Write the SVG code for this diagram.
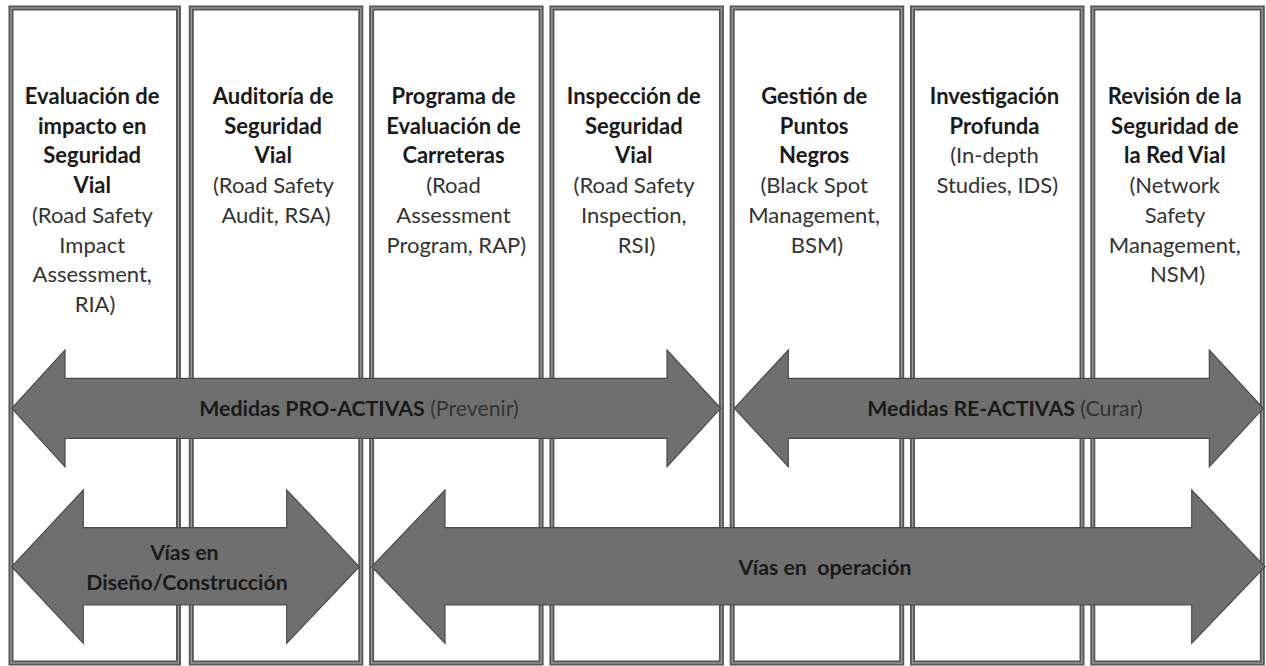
<svg xmlns="http://www.w3.org/2000/svg" width="1266" height="666" viewBox="0 0 1266 666">
  <style>
    .col-outer { fill: #ffffff; stroke: #555555; stroke-width: 5; }
    .col-inner { fill: none; stroke: #9a9a9a; stroke-width: 1.4; }
    .lbl { font-family: Lato, "Liberation Sans", sans-serif; font-size: 22px; text-anchor: middle; }
    .b { font-weight: 700; fill: #1a1a1a; }
    .r { font-weight: 400; fill: #333333; }
    .band { fill: #6f6f6f; stroke: #4a4a4a; stroke-width: 1.2; stroke-linejoin: miter; }
    .band-lbl { font-family: Lato, "Liberation Sans", sans-serif; font-size: 21.3px; text-anchor: middle; }
  </style>

  <rect width="1266" height="666" fill="#ffffff"/>

  <!-- Seven method columns -->
  <g id="col-ria">
    <rect class="col-outer" x="11" y="8" width="167.5" height="655"/>
    <rect class="col-inner" x="11" y="8" width="167.5" height="655"/>
    <text class="lbl">
      <tspan class="b" x="95" y="104">Evaluación de</tspan>
      <tspan class="b" x="95" y="133.7">impacto en</tspan>
      <tspan class="b" x="95" y="163.4">Seguridad</tspan>
      <tspan class="b" x="95" y="193.1">Vial</tspan>
      <tspan class="r" x="95" y="222.8">(Road Safety</tspan>
      <tspan class="r" x="95" y="252.5">Impact</tspan>
      <tspan class="r" x="95" y="282.2">Assessment,</tspan>
      <tspan class="r" x="95" y="311.9">RIA)</tspan>
    </text>
  </g>

  <g id="col-rsa">
    <rect class="col-outer" x="191.3" y="8" width="169.5" height="655"/>
    <rect class="col-inner" x="191.3" y="8" width="169.5" height="655"/>
    <text class="lbl">
      <tspan class="b" x="276" y="104">Auditoría de</tspan>
      <tspan class="b" x="276" y="133.7">Seguridad</tspan>
      <tspan class="b" x="276" y="163.4">Vial</tspan>
      <tspan class="r" x="276" y="193.1">(Road Safety</tspan>
      <tspan class="r" x="276" y="222.8">Audit, RSA)</tspan>
    </text>
  </g>

  <g id="col-rap">
    <rect class="col-outer" x="371.6" y="8" width="169.5" height="655"/>
    <rect class="col-inner" x="371.6" y="8" width="169.5" height="655"/>
    <text class="lbl">
      <tspan class="b" x="456.3" y="104">Programa de</tspan>
      <tspan class="b" x="456.3" y="133.7">Evaluación de</tspan>
      <tspan class="b" x="456.3" y="163.4">Carreteras</tspan>
      <tspan class="r" x="456.3" y="193.1">(Road</tspan>
      <tspan class="r" x="456.3" y="222.8">Assessment</tspan>
      <tspan class="r" x="456.3" y="252.5">Program, RAP)</tspan>
    </text>
  </g>

  <g id="col-rsi">
    <rect class="col-outer" x="551.9" y="8" width="169.5" height="655"/>
    <rect class="col-inner" x="551.9" y="8" width="169.5" height="655"/>
    <text class="lbl">
      <tspan class="b" x="636.6" y="104">Inspección de</tspan>
      <tspan class="b" x="636.6" y="133.7">Seguridad</tspan>
      <tspan class="b" x="636.6" y="163.4">Vial</tspan>
      <tspan class="r" x="636.6" y="193.1">(Road Safety</tspan>
      <tspan class="r" x="636.6" y="222.8">Inspection,</tspan>
      <tspan class="r" x="636.6" y="252.5">RSI)</tspan>
    </text>
  </g>

  <g id="col-bsm">
    <rect class="col-outer" x="732.2" y="8" width="169.5" height="655"/>
    <rect class="col-inner" x="732.2" y="8" width="169.5" height="655"/>
    <text class="lbl">
      <tspan class="b" x="817" y="104">Gestión de</tspan>
      <tspan class="b" x="817" y="133.7">Puntos</tspan>
      <tspan class="b" x="817" y="163.4">Negros</tspan>
      <tspan class="r" x="817" y="193.1">(Black Spot</tspan>
      <tspan class="r" x="817" y="222.8">Management,</tspan>
      <tspan class="r" x="817" y="252.5">BSM)</tspan>
    </text>
  </g>

  <g id="col-ids">
    <rect class="col-outer" x="912.5" y="8" width="169.5" height="655"/>
    <rect class="col-inner" x="912.5" y="8" width="169.5" height="655"/>
    <text class="lbl">
      <tspan class="b" x="997.3" y="104">Investigación</tspan>
      <tspan class="b" x="997.3" y="133.7">Profunda</tspan>
      <tspan class="r" x="997.3" y="163.4">(In-depth</tspan>
      <tspan class="r" x="997.3" y="193.1">Studies, IDS)</tspan>
    </text>
  </g>

  <g id="col-nsm">
    <rect class="col-outer" x="1092.8" y="8" width="169.5" height="655"/>
    <rect class="col-inner" x="1092.8" y="8" width="169.5" height="655"/>
    <text class="lbl">
      <tspan class="b" x="1177.6" y="104">Revisión de la</tspan>
      <tspan class="b" x="1177.6" y="133.7">Seguridad de</tspan>
      <tspan class="b" x="1177.6" y="163.4">la Red Vial</tspan>
      <tspan class="r" x="1177.6" y="193.1">(Network</tspan>
      <tspan class="r" x="1177.6" y="222.8">Safety</tspan>
      <tspan class="r" x="1177.6" y="252.5">Management,</tspan>
      <tspan class="r" x="1177.6" y="282.2">NSM)</tspan>
    </text>
  </g>

  <!-- Double-headed block arrows spanning the columns -->
  <g id="connectors">
    <g id="band-proactivas">
      <path class="band" d="M11.7,408.3 L65,350 L65,378.3 L667,378.3 L667,350 L720.7,408.3 L667,466.7 L667,438.3 L65,438.3 L65,466.7 Z"/>
      <text class="band-lbl" x="359" y="416"><tspan class="b">Medidas PRO-ACTIVAS</tspan><tspan class="r"> (Prevenir)</tspan></text>
    </g>
    <g id="band-reactivas">
      <path class="band" d="M734.3,408.3 L788.3,350 L788.3,378.3 L1209.3,378.3 L1209.3,350 L1263.3,408.3 L1209.3,466.7 L1209.3,438.3 L788.3,438.3 L788.3,466.7 Z"/>
      <text class="band-lbl" x="1005" y="416"><tspan class="b">Medidas RE-ACTIVAS</tspan><tspan class="r"> (Curar)</tspan></text>
    </g>
    <g id="band-diseno">
      <path class="band" d="M11.7,566.7 L83.3,490 L83.3,527.7 L286.7,527.7 L286.7,490 L359.3,566.7 L286.7,643.3 L286.7,605 L83.3,605 L83.3,643.3 Z"/>
      <text class="band-lbl b">
        <tspan x="187" y="560">Vías en</tspan>
        <tspan x="187" y="590">Diseño/Construcción</tspan>
      </text>
    </g>
    <g id="band-operacion">
      <path class="band" d="M371.7,566.7 L445,490 L445,527.7 L1191.7,527.7 L1191.7,490 L1265,566.7 L1191.7,643.3 L1191.7,605 L445,605 L445,643.3 Z"/>
      <text class="band-lbl b" x="825" y="575" xml:space="preserve">Vías en  operación</text>
    </g>
  </g>
</svg>
